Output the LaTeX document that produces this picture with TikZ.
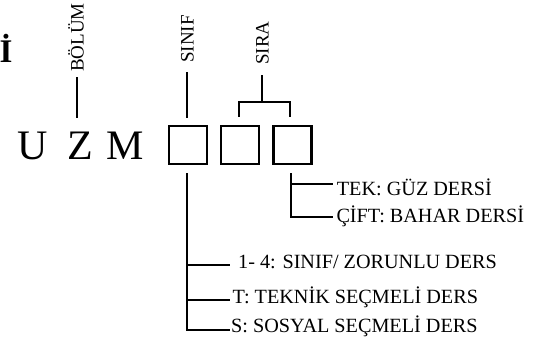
\documentclass[tikz,border=0pt]{standalone}
\usepackage{fontspec}
\setmainfont{Liberation Serif}
\usetikzlibrary{calc}
\begin{document}
\begin{tikzpicture}[x=1pt,y=-1pt,
  conn/.style={line width=2pt},
  boxnode/.style={draw,line width=2.2pt,minimum size=38pt,inner sep=0pt},
  vlabel/.style={rotate=90,anchor=base west,inner sep=0pt,font=\fontsize{19}{21}\selectfont},
  big/.style={anchor=base west,inner sep=0pt,font=\fontsize{42}{46}\selectfont},
  item/.style={anchor=base west,inner sep=0pt,font=\fontsize{20.2}{24}\selectfont}]
\path[use as bounding box] (0,0) rectangle (559,349);
% left bold letter
\node[anchor=base west,inner sep=0pt,font=\fontsize{33}{36}\selectfont\bfseries] (ibold) at (-0.5,62) {İ};
% U Z M
\node[big] (U) at (17,159) {U};
\node[big] (Z) at (67.5,159) {Z};
\node[big] (M) at (106.5,159) {M};
% boxes
\node[boxnode] (b1) at (188,145) {};
\node[boxnode] (b2) at (240,145) {};
\node[boxnode] (b3) at (292.5,145) {};
% vertical labels
\node[vlabel] (bolum) at (83.5,72) {BÖLÜM};
\node[vlabel] (sinif) at (193.5,63) {SINIF};
\node[vlabel] (sira) at (268.5,65) {SIRA};
% top connectors
\coordinate (bolA) at (77,77);
\coordinate (bolB) at (77,118);
\draw[conn] (bolA) -- (bolB);
\draw[conn] ($(b1.north)+(-1,-7)$) -- ($(b1.north)+(-1,-53)$);
\coordinate (siraA) at (262,75);
\coordinate (siraB) at (262,102);
\draw[conn] (siraA) -- (siraB);
\draw[conn] ($(b2.north)+(-1,-8)$) |- ($(b3.north)+(-2.5,-23)$) -- ($(b3.north)+(-2.5,-8)$);
% lower right branch
\node[item] (tek) at (336.7,195) {TEK: GÜZ DERSİ};
\node[item] (cift) at (336.3,222) {ÇİFT: BAHAR DERSİ};
\coordinate (r0) at (291,173);
\coordinate (r1) at (333,184);
\coordinate (r2) at (333,217);
\draw[conn] (r0) |- (r2);
\draw[conn] (r0 |- r1) -- (r1);
% lower left branch
\node[item] (l1) at (238,268) {1- 4: SINIF/ ZORUNLU DERS};
\node[item] (l2) at (232.5,303.5) {T: TEKNİK SEÇMELİ DERS};
\node[item] (l3) at (231,332.5) {S: SOSYAL SEÇMELİ DERS};
\coordinate (s0) at (187,173);
\coordinate (s1) at (230,265);
\coordinate (s2) at (230,300);
\coordinate (s3) at (230,330);
\draw[conn] (s0) |- (s3);
\draw[conn] (s0 |- s1) -- (s1);
\draw[conn] (s0 |- s2) -- (s2);
\end{tikzpicture}
\end{document}
